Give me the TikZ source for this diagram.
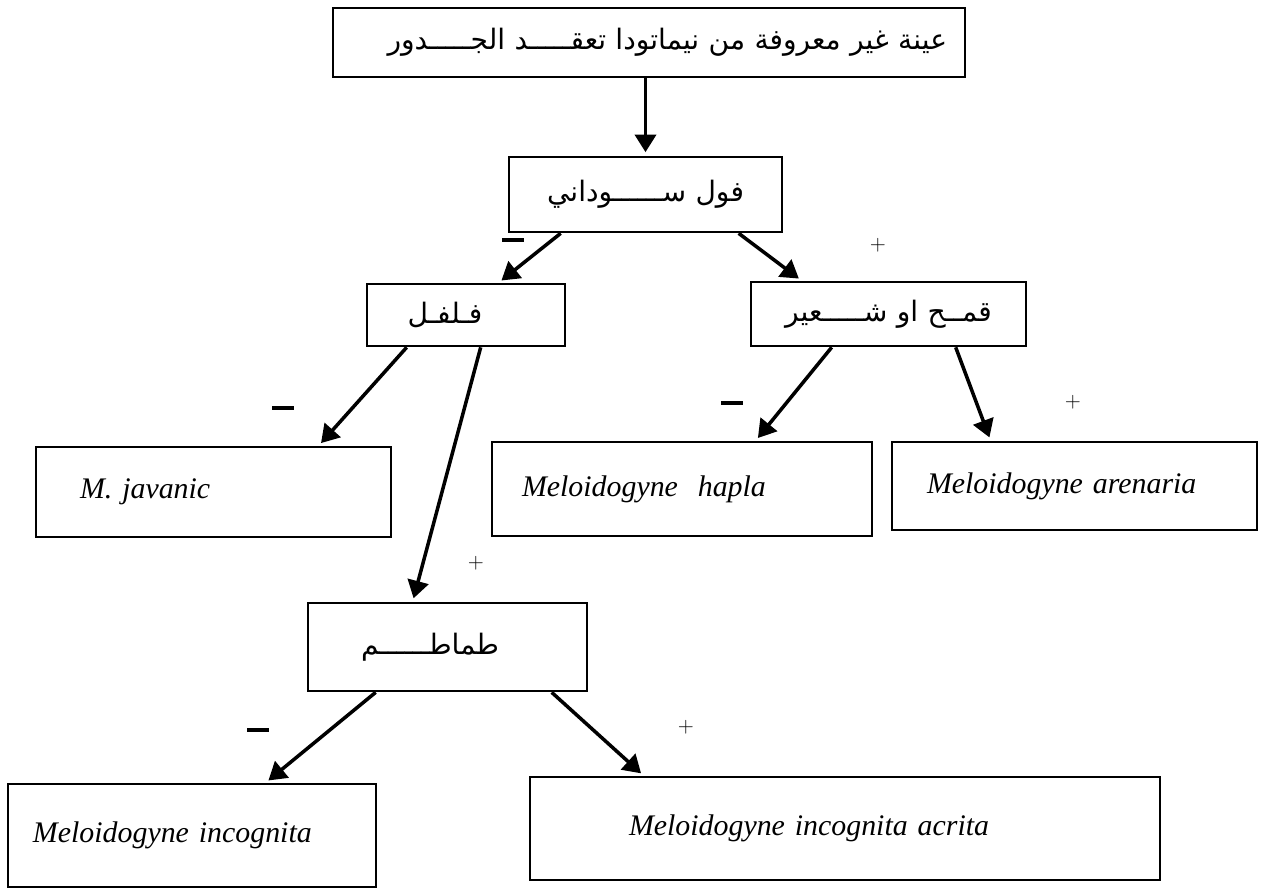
\documentclass[tikz,border=0pt]{standalone}
\usepackage{fontspec}
\setmainfont{Liberation Serif}
\newfontfamily\arabicfont[Script=Arabic]{DejaVu Sans}
\TeXXeTstate=1
\usetikzlibrary{arrows.meta}

\begin{document}
\begin{tikzpicture}[
            box/.style={rectangle, draw, line width=1.5pt, inner sep=0pt, align=center, font=\arabicfont\fontsize{16}{19}\selectfont},
            species/.style={box, align=left, font=\fontsize{17}{20}\selectfont\itshape},
            minus/.style={inner sep=0pt, fill=black, minimum width=0.44cm, minimum height=2pt},
            plus/.style={inner sep=1pt, font=\fontsize{13}{15}\selectfont},
            arrow/.style={line width=2pt,->,>={Triangle[length=10pt,width=12pt]}, shorten >=2pt}
        ]
            \useasboundingbox (0,0) rectangle (25.3,-17.8);

            % Sample block
            \node[box, align=right, inner xsep=0.36cm, text width=11.92cm, minimum height=1.38cm] (sample) at (12.98,-0.85) {\beginR عينة غير معروفة من نيماتودا تعقـــــد الجـــــدور\endR};

            % Host plants
            \node[box, text width=5.46cm, minimum height=1.5cm] (peanut) at (12.91,-3.89) {\beginR فول ســــــوداني\endR};
            \node[box, text width=3.96cm, minimum height=1.24cm] (pepper) at (9.32,-6.3) {\beginR فـلفـل\endR\kern0.84cm};
            \node[box, text width=5.5cm, minimum height=1.28cm] (wheat) at (17.77,-6.28) {\beginR قمــح او شـــــعير\endR};
            \node[box, text width=5.58cm, minimum height=1.76cm] (tomato) at (8.95,-12.94) {\beginR طماطــــــم\endR\kern0.7cm};

            % Species blocks
            \node[species, text width=7.1cm, minimum height=1.8cm] (javanica) at (4.27,-9.84) {\hspace*{0.88cm}M. javanic};
            \node[species, text width=7.6cm, minimum height=1.88cm] (hapla) at (13.64,-9.78) {\hspace*{0.6cm}Meloidogyne\ \ hapla};
            \node[species, text width=7.3cm, minimum height=1.76cm] (arenaria) at (21.49,-9.72) {\hspace*{0.7cm}Meloidogyne arenaria};
            \node[species, text width=7.36cm, minimum height=2.06cm] (incognita) at (3.84,-16.71) {\hspace*{0.5cm}Meloidogyne incognita};
            \node[species, text width=12.6cm, minimum height=2.06cm] (acrita) at (16.9,-16.57) {\hspace*{1.98cm}Meloidogyne incognita acrita};

            % Signs
            \node[minus] (m1) at (10.26,-4.8) {};
            \node[plus] (p1) at (17.56,-4.9) {$+$};
            \node[minus] (m2) at (5.66,-8.16) {};
            \node[plus] (p2) at (9.52,-11.26) {$+$};
            \node[minus] (m3) at (14.64,-8.06) {};
            \node[plus] (p3) at (21.46,-8.04) {$+$};
            \node[minus] (m4) at (5.16,-14.6) {};
            \node[plus] (p4) at (13.72,-14.54) {$+$};

            % Arrows
            \draw[arrow] (peanut.north |- sample.south) -- (peanut.north);
            \draw[arrow] ([xshift=1.06cm]peanut.south west) -- ([xshift=2.66cm]pepper.north west);
            \draw[arrow] ([xshift=4.62cm]peanut.south west) -- ([xshift=1.04cm]wheat.north west);
            \draw[arrow] ([xshift=0.82cm]pepper.south west) -- ([xshift=5.68cm]javanica.north west);
            \draw[arrow] ([xshift=2.3cm]pepper.south west) -- ([xshift=2.12cm]tomato.north west);
            \draw[arrow] ([xshift=1.64cm]wheat.south west) -- ([xshift=5.3cm]hapla.north west);
            \draw[arrow] ([xshift=4.12cm]wheat.south west) -- ([xshift=2cm]arenaria.north west);
            \draw[arrow] ([xshift=1.38cm]tomato.south west) -- ([xshift=5.18cm]incognita.north west);
            \draw[arrow] ([xshift=4.9cm]tomato.south west) -- ([xshift=2.3cm]acrita.north west);
        \end{tikzpicture}
\end{document}
